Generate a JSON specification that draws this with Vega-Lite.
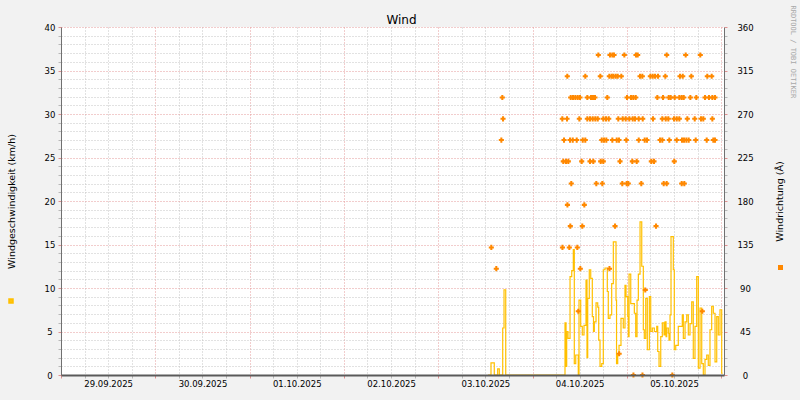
{
  "$schema": "https://vega.github.io/schema/vega-lite/v6.json",
  "width": 663,
  "height": 348,
  "autosize": {"type": "none"},
  "padding": {"left": 61, "top": 27, "right": 76, "bottom": 25},
  "background": "#F2F2F2",
  "title": {"text": "Wind", "font": "DejaVu Sans", "fontSize": 12, "fontWeight": "normal", "color": "#000000", "anchor": "middle", "frame": "group", "offset": 0, "dx": 9, "dy": 22},
  "config": {
    "view": {"stroke": null, "fill": "white"},
    "axis": {"labelFont": "DejaVu Sans", "titleFont": "DejaVu Sans", "labelColor": "#000000", "titleColor": "#000000", "titleFontWeight": "normal", "labelFontSize": 8.5}
  },
  "datasets": {
    "speed": [
      {"t": "2025-10-03T12:40", "v": 0},
      {"t": "2025-10-03T13:26", "v": 1.4},
      {"t": "2025-10-03T14:16", "v": 0},
      {"t": "2025-10-03T15:08", "v": 0.7},
      {"t": "2025-10-03T15:33", "v": 0},
      {"t": "2025-10-03T16:25", "v": 5.4},
      {"t": "2025-10-03T16:45", "v": 9.8},
      {"t": "2025-10-03T17:11", "v": 0},
      {"t": "2025-10-04T08:16", "v": 6.0},
      {"t": "2025-10-04T08:32", "v": 1.0},
      {"t": "2025-10-04T08:42", "v": 5.0},
      {"t": "2025-10-04T09:02", "v": 4.2},
      {"t": "2025-10-04T09:33", "v": 11.3},
      {"t": "2025-10-04T09:59", "v": 12.0},
      {"t": "2025-10-04T10:23", "v": 14.4},
      {"t": "2025-10-04T10:38", "v": 1.3},
      {"t": "2025-10-04T11:00", "v": 2.3},
      {"t": "2025-10-04T11:39", "v": 0},
      {"t": "2025-10-04T11:50", "v": 8.6},
      {"t": "2025-10-04T12:16", "v": 5.6},
      {"t": "2025-10-04T12:40", "v": 4.6},
      {"t": "2025-10-04T13:06", "v": 5.7},
      {"t": "2025-10-04T13:37", "v": 10.9},
      {"t": "2025-10-04T13:52", "v": 2.0},
      {"t": "2025-10-04T14:03", "v": 8.8},
      {"t": "2025-10-04T14:27", "v": 12.1},
      {"t": "2025-10-04T14:49", "v": 11.1},
      {"t": "2025-10-04T15:13", "v": 6.7},
      {"t": "2025-10-04T15:31", "v": 5.0},
      {"t": "2025-10-04T15:44", "v": 6.1},
      {"t": "2025-10-04T16:10", "v": 8.3},
      {"t": "2025-10-04T16:36", "v": 7.8},
      {"t": "2025-10-04T16:51", "v": 4.0},
      {"t": "2025-10-04T17:11", "v": 1.0},
      {"t": "2025-10-04T17:37", "v": 1.3},
      {"t": "2025-10-04T18:01", "v": 12.1},
      {"t": "2025-10-04T18:27", "v": 12.3},
      {"t": "2025-10-04T19:02", "v": 9.6},
      {"t": "2025-10-04T19:17", "v": 6.5},
      {"t": "2025-10-04T19:43", "v": 6.9},
      {"t": "2025-10-04T20:09", "v": 10.5},
      {"t": "2025-10-04T20:34", "v": 15.3},
      {"t": "2025-10-04T21:15", "v": 8.6},
      {"t": "2025-10-04T21:23", "v": 1.3},
      {"t": "2025-10-04T21:41", "v": 2.3},
      {"t": "2025-10-04T22:01", "v": 3.4},
      {"t": "2025-10-04T22:31", "v": 6.5},
      {"t": "2025-10-04T23:06", "v": 5.4},
      {"t": "2025-10-04T23:32", "v": 10.3},
      {"t": "2025-10-04T23:48", "v": 9.0},
      {"t": "2025-10-05T00:14", "v": 6.7},
      {"t": "2025-10-05T00:23", "v": 4.4},
      {"t": "2025-10-05T00:34", "v": 11.6},
      {"t": "2025-10-05T01:00", "v": 8.2},
      {"t": "2025-10-05T01:55", "v": 7.1},
      {"t": "2025-10-05T02:16", "v": 4.4},
      {"t": "2025-10-05T02:36", "v": 8.6},
      {"t": "2025-10-05T02:56", "v": 11.6},
      {"t": "2025-10-05T03:22", "v": 17.6},
      {"t": "2025-10-05T03:48", "v": 12.5},
      {"t": "2025-10-05T04:12", "v": 5.2},
      {"t": "2025-10-05T04:27", "v": 4.2},
      {"t": "2025-10-05T04:49", "v": 8.8},
      {"t": "2025-10-05T05:13", "v": 2.9},
      {"t": "2025-10-05T05:44", "v": 9.0},
      {"t": "2025-10-05T06:05", "v": 5.0},
      {"t": "2025-10-05T06:29", "v": 5.4},
      {"t": "2025-10-05T07:00", "v": 5.0},
      {"t": "2025-10-05T07:37", "v": 5.6},
      {"t": "2025-10-05T07:52", "v": 2.7},
      {"t": "2025-10-05T08:12", "v": 1.0},
      {"t": "2025-10-05T08:38", "v": 4.4},
      {"t": "2025-10-05T09:02", "v": 6.0},
      {"t": "2025-10-05T09:28", "v": 4.6},
      {"t": "2025-10-05T09:43", "v": 6.1},
      {"t": "2025-10-05T09:59", "v": 4.4},
      {"t": "2025-10-05T10:09", "v": 5.4},
      {"t": "2025-10-05T10:34", "v": 4.8},
      {"t": "2025-10-05T10:44", "v": 4.0},
      {"t": "2025-10-05T11:00", "v": 6.9},
      {"t": "2025-10-05T11:15", "v": 15.9},
      {"t": "2025-10-05T11:50", "v": 12.1},
      {"t": "2025-10-05T12:05", "v": 2.9},
      {"t": "2025-10-05T12:27", "v": 3.4},
      {"t": "2025-10-05T13:06", "v": 5.6},
      {"t": "2025-10-05T14:07", "v": 6.9},
      {"t": "2025-10-05T14:23", "v": 4.2},
      {"t": "2025-10-05T14:49", "v": 6.1},
      {"t": "2025-10-05T15:15", "v": 6.9},
      {"t": "2025-10-05T15:39", "v": 4.6},
      {"t": "2025-10-05T16:05", "v": 5.9},
      {"t": "2025-10-05T16:31", "v": 8.4},
      {"t": "2025-10-05T16:55", "v": 1.9},
      {"t": "2025-10-05T17:21", "v": 5.6},
      {"t": "2025-10-05T17:47", "v": 11.3},
      {"t": "2025-10-05T18:12", "v": 0.8},
      {"t": "2025-10-05T18:38", "v": 7.7},
      {"t": "2025-10-05T19:04", "v": 1.3},
      {"t": "2025-10-05T19:28", "v": 0},
      {"t": "2025-10-05T19:54", "v": 1.8},
      {"t": "2025-10-05T20:20", "v": 2.3},
      {"t": "2025-10-05T20:44", "v": 1.1},
      {"t": "2025-10-05T21:10", "v": 5.2},
      {"t": "2025-10-05T21:36", "v": 7.9},
      {"t": "2025-10-05T22:01", "v": 7.1},
      {"t": "2025-10-05T22:27", "v": 1.5},
      {"t": "2025-10-05T22:53", "v": 6.7},
      {"t": "2025-10-05T23:17", "v": 4.6},
      {"t": "2025-10-05T23:43", "v": 7.5},
      {"t": "2025-10-06T00:09", "v": 0.2},
      {"t": "2025-10-06T00:24", "v": 0.2}
    ],
    "dir": [
      {"t": "2025-10-04T16:45", "d": 331}, {"t": "2025-10-04T19:43", "d": 331}, {"t": "2025-10-04T20:19", "d": 331}, {"t": "2025-10-04T20:45", "d": 331}, {"t": "2025-10-04T23:22", "d": 331},
      {"t": "2025-10-05T02:20", "d": 331}, {"t": "2025-10-05T02:46", "d": 331}, {"t": "2025-10-05T10:09", "d": 331}, {"t": "2025-10-05T14:59", "d": 331}, {"t": "2025-10-05T18:42", "d": 331},
      {"t": "2025-10-04T08:51", "d": 309}, {"t": "2025-10-04T13:26", "d": 309}, {"t": "2025-10-04T17:15", "d": 309}, {"t": "2025-10-04T19:33", "d": 309}, {"t": "2025-10-04T20:09", "d": 309},
      {"t": "2025-10-04T20:34", "d": 309}, {"t": "2025-10-04T21:10", "d": 309}, {"t": "2025-10-04T21:41", "d": 309}, {"t": "2025-10-04T22:36", "d": 309},
      {"t": "2025-10-05T03:22", "d": 309}, {"t": "2025-10-05T03:57", "d": 309}, {"t": "2025-10-05T05:59", "d": 309}, {"t": "2025-10-05T06:35", "d": 309}, {"t": "2025-10-05T07:11", "d": 309},
      {"t": "2025-10-05T07:56", "d": 309}, {"t": "2025-10-05T09:48", "d": 309}, {"t": "2025-10-05T13:32", "d": 309}, {"t": "2025-10-05T14:14", "d": 309}, {"t": "2025-10-05T16:25", "d": 309},
      {"t": "2025-10-05T20:29", "d": 309}, {"t": "2025-10-05T21:36", "d": 309},
      {"t": "2025-10-03T16:19", "d": 287}, {"t": "2025-10-04T09:43", "d": 287}, {"t": "2025-10-04T10:18", "d": 287}, {"t": "2025-10-04T10:54", "d": 287}, {"t": "2025-10-04T11:30", "d": 287},
      {"t": "2025-10-04T12:05", "d": 287}, {"t": "2025-10-04T13:57", "d": 287}, {"t": "2025-10-04T14:53", "d": 287}, {"t": "2025-10-04T15:24", "d": 287}, {"t": "2025-10-04T15:54", "d": 287},
      {"t": "2025-10-04T19:02", "d": 287}, {"t": "2025-10-05T00:03", "d": 287}, {"t": "2025-10-05T01:04", "d": 287}, {"t": "2025-10-05T01:39", "d": 287}, {"t": "2025-10-05T02:16", "d": 287},
      {"t": "2025-10-05T07:46", "d": 287}, {"t": "2025-10-05T09:13", "d": 287}, {"t": "2025-10-05T10:40", "d": 287}, {"t": "2025-10-05T11:10", "d": 287}, {"t": "2025-10-05T12:11", "d": 287},
      {"t": "2025-10-05T13:22", "d": 287}, {"t": "2025-10-05T13:58", "d": 287}, {"t": "2025-10-05T14:29", "d": 287}, {"t": "2025-10-05T16:10", "d": 287}, {"t": "2025-10-05T17:41", "d": 287},
      {"t": "2025-10-05T19:54", "d": 287}, {"t": "2025-10-05T20:55", "d": 287}, {"t": "2025-10-05T21:46", "d": 287}, {"t": "2025-10-05T22:27", "d": 287},
      {"t": "2025-10-03T16:30", "d": 265}, {"t": "2025-10-04T07:35", "d": 265}, {"t": "2025-10-04T08:47", "d": 265}, {"t": "2025-10-04T11:55", "d": 265}, {"t": "2025-10-04T13:57", "d": 265},
      {"t": "2025-10-04T14:38", "d": 265}, {"t": "2025-10-04T15:19", "d": 265}, {"t": "2025-10-04T15:59", "d": 265}, {"t": "2025-10-04T16:36", "d": 265}, {"t": "2025-10-04T18:01", "d": 265},
      {"t": "2025-10-04T18:42", "d": 265}, {"t": "2025-10-04T19:24", "d": 265}, {"t": "2025-10-04T21:50", "d": 265}, {"t": "2025-10-04T22:57", "d": 265}, {"t": "2025-10-04T23:43", "d": 265},
      {"t": "2025-10-05T00:38", "d": 265}, {"t": "2025-10-05T01:30", "d": 265}, {"t": "2025-10-05T02:05", "d": 265}, {"t": "2025-10-05T03:02", "d": 265}, {"t": "2025-10-05T04:03", "d": 265},
      {"t": "2025-10-05T06:40", "d": 265}, {"t": "2025-10-05T09:02", "d": 265}, {"t": "2025-10-05T09:54", "d": 265}, {"t": "2025-10-05T10:34", "d": 265}, {"t": "2025-10-05T12:01", "d": 265},
      {"t": "2025-10-05T12:42", "d": 265}, {"t": "2025-10-05T13:22", "d": 265}, {"t": "2025-10-05T15:24", "d": 265}, {"t": "2025-10-05T17:17", "d": 265}, {"t": "2025-10-05T18:53", "d": 265},
      {"t": "2025-10-05T19:28", "d": 265}, {"t": "2025-10-05T21:46", "d": 265},
      {"t": "2025-10-03T16:04", "d": 243}, {"t": "2025-10-04T08:01", "d": 243}, {"t": "2025-10-04T09:33", "d": 243}, {"t": "2025-10-04T10:14", "d": 243}, {"t": "2025-10-04T11:15", "d": 243},
      {"t": "2025-10-04T12:47", "d": 243}, {"t": "2025-10-04T13:26", "d": 243}, {"t": "2025-10-04T17:37", "d": 243}, {"t": "2025-10-04T18:12", "d": 243}, {"t": "2025-10-04T18:47", "d": 243},
      {"t": "2025-10-04T20:19", "d": 243}, {"t": "2025-10-04T21:26", "d": 243}, {"t": "2025-10-04T22:01", "d": 243}, {"t": "2025-10-04T23:52", "d": 243},
      {"t": "2025-10-05T03:02", "d": 243}, {"t": "2025-10-05T04:33", "d": 243}, {"t": "2025-10-05T05:08", "d": 243}, {"t": "2025-10-05T08:27", "d": 243}, {"t": "2025-10-05T09:02", "d": 243},
      {"t": "2025-10-05T10:49", "d": 243}, {"t": "2025-10-05T12:42", "d": 243}, {"t": "2025-10-05T14:03", "d": 243}, {"t": "2025-10-05T14:33", "d": 243}, {"t": "2025-10-05T15:09", "d": 243},
      {"t": "2025-10-05T15:45", "d": 243}, {"t": "2025-10-05T17:32", "d": 243}, {"t": "2025-10-05T20:20", "d": 243}, {"t": "2025-10-05T22:01", "d": 243}, {"t": "2025-10-05T22:27", "d": 243},
      {"t": "2025-10-04T07:50", "d": 221}, {"t": "2025-10-04T08:32", "d": 221}, {"t": "2025-10-04T09:07", "d": 221}, {"t": "2025-10-04T12:31", "d": 221}, {"t": "2025-10-04T14:38", "d": 221},
      {"t": "2025-10-04T15:28", "d": 221}, {"t": "2025-10-04T17:21", "d": 221}, {"t": "2025-10-04T18:01", "d": 221}, {"t": "2025-10-04T22:16", "d": 221},
      {"t": "2025-10-05T01:24", "d": 221}, {"t": "2025-10-05T02:31", "d": 221}, {"t": "2025-10-05T06:14", "d": 221}, {"t": "2025-10-05T06:55", "d": 221}, {"t": "2025-10-05T12:05", "d": 221},
      {"t": "2025-10-04T09:52", "d": 198}, {"t": "2025-10-04T16:14", "d": 198}, {"t": "2025-10-04T17:46", "d": 198}, {"t": "2025-10-04T22:51", "d": 198}, {"t": "2025-10-04T23:58", "d": 198},
      {"t": "2025-10-05T00:23", "d": 198}, {"t": "2025-10-05T03:41", "d": 198}, {"t": "2025-10-05T09:23", "d": 198}, {"t": "2025-10-05T10:09", "d": 198}, {"t": "2025-10-05T13:58", "d": 198},
      {"t": "2025-10-05T14:38", "d": 198},
      {"t": "2025-10-04T08:53", "d": 176}, {"t": "2025-10-04T13:11", "d": 176},
      {"t": "2025-10-04T09:37", "d": 154}, {"t": "2025-10-04T12:40", "d": 154}, {"t": "2025-10-04T21:00", "d": 154}, {"t": "2025-10-05T07:26", "d": 154},
      {"t": "2025-10-03T13:31", "d": 132}, {"t": "2025-10-04T07:37", "d": 132}, {"t": "2025-10-04T09:22", "d": 132}, {"t": "2025-10-04T11:24", "d": 132},
      {"t": "2025-10-03T14:47", "d": 110}, {"t": "2025-10-04T12:10", "d": 110}, {"t": "2025-10-04T19:35", "d": 110},
      {"t": "2025-10-05T04:42", "d": 88},
      {"t": "2025-10-04T11:39", "d": 66}, {"t": "2025-10-05T19:13", "d": 66},
      {"t": "2025-10-04T22:03", "d": 22},
      {"t": "2025-10-05T01:41", "d": 0}, {"t": "2025-10-05T03:59", "d": 0}, {"t": "2025-10-05T11:35", "d": 0}
    ]
  },
  "layer": [
    {
      "data": {"name": "speed"},
      "mark": {"type": "line", "interpolate": "step-after", "strokeWidth": 1.2},
      "encoding": {
        "x": {
          "field": "t", "type": "temporal",
          "scale": {"domain": [{"year": 2025, "month": 9, "date": 29, "hours": 0}, {"year": 2025, "month": 10, "date": 6, "hours": 0, "minutes": 44}], "nice": false},
          "axis": {
            "orient": "bottom",
            "title": null,
            "domain": false,
            "values": [
              {"year": 2025, "month": 9, "date": 29, "hours": 0}, {"year": 2025, "month": 9, "date": 29, "hours": 6}, {"year": 2025, "month": 9, "date": 29, "hours": 12}, {"year": 2025, "month": 9, "date": 29, "hours": 18},
              {"year": 2025, "month": 9, "date": 30, "hours": 0}, {"year": 2025, "month": 9, "date": 30, "hours": 6}, {"year": 2025, "month": 9, "date": 30, "hours": 12}, {"year": 2025, "month": 9, "date": 30, "hours": 18},
              {"year": 2025, "month": 10, "date": 1, "hours": 0}, {"year": 2025, "month": 10, "date": 1, "hours": 6}, {"year": 2025, "month": 10, "date": 1, "hours": 12}, {"year": 2025, "month": 10, "date": 1, "hours": 18},
              {"year": 2025, "month": 10, "date": 2, "hours": 0}, {"year": 2025, "month": 10, "date": 2, "hours": 6}, {"year": 2025, "month": 10, "date": 2, "hours": 12}, {"year": 2025, "month": 10, "date": 2, "hours": 18},
              {"year": 2025, "month": 10, "date": 3, "hours": 0}, {"year": 2025, "month": 10, "date": 3, "hours": 6}, {"year": 2025, "month": 10, "date": 3, "hours": 12}, {"year": 2025, "month": 10, "date": 3, "hours": 18},
              {"year": 2025, "month": 10, "date": 4, "hours": 0}, {"year": 2025, "month": 10, "date": 4, "hours": 6}, {"year": 2025, "month": 10, "date": 4, "hours": 12}, {"year": 2025, "month": 10, "date": 4, "hours": 18},
              {"year": 2025, "month": 10, "date": 5, "hours": 0}, {"year": 2025, "month": 10, "date": 5, "hours": 6}, {"year": 2025, "month": 10, "date": 5, "hours": 12}, {"year": 2025, "month": 10, "date": 5, "hours": 18},
              {"year": 2025, "month": 10, "date": 6, "hours": 0}
            ],
            "labelExpr": "hours(datum.value) === 12 ? timeFormat(datum.value, '%d.%m.%Y') : ''",
            "labelPadding": 1, "labelOverlap": false, "labelFlush": false, "tickSize": 3,
            "tickColor": {"condition": {"test": "hours(datum.value) === 0", "value": "#E09090"}, "value": "#B8B8B8"},
            "gridColor": {"condition": {"test": "hours(datum.value) === 0", "value": "#E49A9A"}, "value": "#C4C4C4"},
            "gridDash": [1, 2]
          }
        },
        "y": {
          "field": "v", "type": "quantitative",
          "scale": {"domain": [0, 40], "nice": false},
          "axis": {
            "orient": "left",
            "title": "Windgeschwindigkeit (km/h)", "titleFontSize": 9.5, "titleX": -50, "titleBaseline": "middle",
            "values": [0,1,2,3,4,5,6,7,8,9,10,11,12,13,14,15,16,17,18,19,20,21,22,23,24,25,26,27,28,29,30,31,32,33,34,35,36,37,38,39,40],
            "labelExpr": "datum.value % 5 === 0 ? datum.label : ''",
            "labelAlign": "center", "labelPadding": 8.5, "labelFlush": false, "labelOverlap": false, "tickSize": 3,
            "tickColor": {"condition": {"test": "datum.value % 5 === 0", "value": "#E09090"}, "value": "#B8B8B8"},
            "gridColor": {"condition": {"test": "datum.value % 5 === 0", "value": "#E49A9A"}, "value": "#C4C4C4"},
            "gridDash": [1, 2],
            "domainColor": "#707070"
          }
        },
        "color": {
          "datum": "Windgeschwindigkeit", "type": "nominal",
          "scale": {"range": ["#FFC000"]},
          "legend": {"orient": "none", "legendX": -53, "legendY": 271, "title": null, "labelFontSize": 1, "labelOpacity": 0, "symbolType": "square", "symbolSize": 9, "symbolStrokeWidth": 2.5, "padding": 0}
        }
      }
    },
    {
      "data": {"name": "dir"},
      "mark": {"type": "point", "shape": "cross", "filled": true, "size": 26, "opacity": 1},
      "encoding": {
        "x": {
          "field": "t", "type": "temporal",
          "scale": {"domain": [{"year": 2025, "month": 9, "date": 29, "hours": 0}, {"year": 2025, "month": 10, "date": 6, "hours": 0, "minutes": 44}], "nice": false},
          "axis": {
            "orient": "bottom", "domain": true, "domainColor": "#5A5A5A", "domainWidth": 1.8, "ticks": false, "labels": false, "grid": false, "zindex": 2,
            "title": "RRDTOOL / TOBI OETIKER", "titleFont": "DejaVu Sans Mono", "titleFontSize": 7, "titleColor": "#A8A8A8",
            "titleAngle": 90, "titleAlign": "left", "titleBaseline": "middle", "titleX": 731, "titleY": -370
          }
        },
        "y": {
          "field": "d", "type": "quantitative",
          "scale": {"domain": [0, 360], "nice": false},
          "axis": {
            "orient": "right",
            "title": "Windrichtung (Â)", "titleFontSize": 9.5, "titleAngle": -90, "titleBaseline": "middle", "titleX": 55,
            "values": [0,9,18,27,36,45,54,63,72,81,90,99,108,117,126,135,144,153,162,171,180,189,198,207,216,225,234,243,252,261,270,279,288,297,306,315,324,333,342,351,360],
            "labelExpr": "datum.value % 45 === 0 ? datum.label : ''",
            "labelAlign": "center", "labelPadding": 18, "labelFlush": false, "labelOverlap": false, "tickSize": 3,
            "tickColor": {"condition": {"test": "datum.value % 45 === 0", "value": "#E09090"}, "value": "#B8B8B8"},
            "grid": false,
            "domainColor": "#707070"
          }
        },
        "fill": {
          "datum": "Windrichtung", "type": "nominal",
          "scale": {"range": ["#FF8800"]},
          "legend": {"orient": "none", "legendX": 716, "legendY": 237, "title": null, "labelFontSize": 1, "labelOpacity": 0, "symbolType": "square", "symbolSize": 25, "padding": 0}
        }
      }
    }
  ],
  "resolve": {"scale": {"y": "independent"}, "axis": {"x": "independent", "y": "independent"}}
}
